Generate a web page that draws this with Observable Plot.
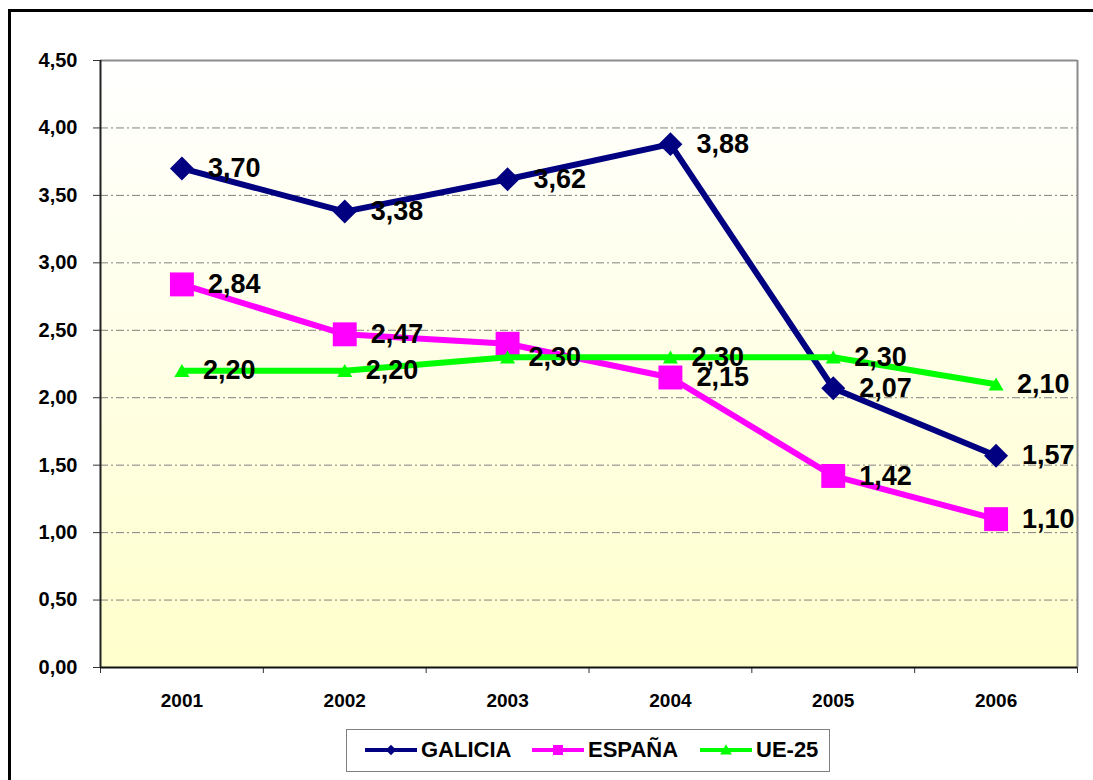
<!DOCTYPE html>
<html>
<head>
<meta charset="utf-8">
<script src="https://cdn.jsdelivr.net/npm/d3@7"></script>
<script src="https://cdn.jsdelivr.net/npm/@observablehq/plot@0.6"></script>
<style>
  body { margin: 0; background: #fff; font-family: "Liberation Sans", Arial, sans-serif; }
  #wrap { position: relative; width: 1093px; height: 780px; overflow: hidden; }
  #chart { position: absolute; left: 0; top: 0; }
  #border { position: absolute; left: 8px; top: 9px; width: 1200px; height: 900px; border: 3px solid #000; box-sizing: border-box; pointer-events: none; }
  #legend { position: absolute; left: 346px; top: 729px; width: 484px; height: 43px; border: 1.5px solid #808080; box-sizing: border-box; background: #fff; }
  .item { position: absolute; top: 0; height: 40px; display: flex; align-items: center; }
  .item svg { display: block; }
  .item span { font-size: 22px; font-weight: bold; color: #000; margin-left: 4px; }
</style>
</head>
<body>
<div id="wrap">
  <div id="chart"></div>
  <div id="legend"></div>
  <div id="border"></div>
</div>
<script>
// ---- data ----
const years = [2001, 2002, 2003, 2004, 2005, 2006];
const seriesNames = ["GALICIA", "ESPAÑA", "UE-25"];
const galicia = [3.70, 3.38, 3.62, 3.88, 2.07, 1.57];
const espana  = [2.84, 2.47, 2.40, 2.15, 1.42, 1.10];
const ue25    = [2.20, 2.20, 2.30, 2.30, 2.30, 2.10];
const unlabeled = [["ESPAÑA", 2003]];
const yTicks = [0, 0.5, 1, 1.5, 2, 2.5, 3, 3.5, 4, 4.5];
const yearEdges = [2000.5, 2001.5, 2002.5, 2003.5, 2004.5, 2005.5, 2006.5];
const colors = ["#000080", "#FF00FF", "#00FF00"];
const symbols = ["diamond2", "square", "triangle"];

const seriesValues = [galicia, espana, ue25];
const data = seriesNames.flatMap((s, i) => years.map((yr, j) => ({series: s, year: yr, value: seriesValues[i][j]})));
const fmt = d => d.toFixed(2).replace(".", ",");
const isLabeled = d => !unlabeled.some(([s, y]) => s === d.series && y === d.year);

const markStyle = {
  "GALICIA": {r: 10.8, dy: 0, dx: 26},
  "ESPAÑA": {r: 13.5, dy: 0, dx: 26},
  "UE-25": {r: 5.6, dy: 2, dx: 21}
};

const seriesMarks = seriesNames.flatMap((s, i) => {
  const sd = data.filter(d => d.series === s);
  return [
    Plot.line(sd, {x: "year", y: "value", stroke: colors[i], strokeWidth: 6, strokeLinejoin: "miter"}),
    Plot.dot(sd, {x: "year", y: "value", symbol: () => symbols[i], r: markStyle[s].r, fill: colors[i], stroke: "none", dy: markStyle[s].dy})
  ];
});
const labelMarks = seriesNames.map((s) =>
  Plot.text(data.filter(d => d.series === s && isLabeled(d)), {
    x: "year", y: "value", text: d => fmt(d.value), dx: markStyle[s].dx,
    textAnchor: "start", fontSize: 27, fontWeight: "bold", fill: "#000"
  })
);

const chart = Plot.plot({
  width: 1093, height: 780,
  marginLeft: 100, marginRight: 16, marginTop: 60, marginBottom: 113,
  x: {domain: [2000.5, 2006.5], axis: null},
  y: {domain: [0, 4.5], axis: null},
  symbol: {type: "identity"},
  style: {fontFamily: '"Liberation Sans", Arial, sans-serif', background: "transparent", overflow: "visible"},
  marks: [
    Plot.frame({fill: "url(#plotBg)", stroke: "none"}),
    Plot.ruleY(yTicks.filter(d => d > 0 && d < 4.5), {stroke: "#808080", strokeWidth: 1, strokeDasharray: "8,3,2,3"}),
    Plot.ruleY([4.5], {stroke: "#8c8c8c", strokeWidth: 2}),
    Plot.ruleX([2006.5], {stroke: "#8c8c8c", strokeWidth: 2}),
    Plot.axisY({ticks: yTicks, tickFormat: fmt, tickSize: 7, tickPadding: 16, fontSize: 20, fontWeight: "bold", fill: "#000", stroke: "#333", label: null}),
    Plot.axisX({ticks: years, tickFormat: d => String(d), tickSize: 0, tickPadding: 26, fontSize: 19, fontWeight: "bold", fill: "#000", label: null}),
    Plot.axisX({ticks: yearEdges, tickFormat: () => "", tickSize: 6, stroke: "#333", label: null}),
    Plot.ruleX([2000.5], {stroke: "#222", strokeWidth: 2}),
    Plot.ruleY([0], {stroke: "#111", strokeWidth: 2}),
    ...seriesMarks,
    ...labelMarks
  ]
});

const ns = "http://www.w3.org/2000/svg";
const defs = document.createElementNS(ns, "defs");
defs.innerHTML = '<linearGradient id="plotBg" x1="0" y1="0" x2="0" y2="1"><stop offset="0" stop-color="#ffffff"/><stop offset="1" stop-color="#ffffcc"/></linearGradient>';
chart.insertBefore(defs, chart.firstChild);
document.getElementById("chart").appendChild(chart);

// ---- legend ----
const legend = document.getElementById("legend");
const swatchLeft = [18, 185, 353];
seriesNames.forEach((s, i) => {
  const item = document.createElement("div");
  item.className = "item";
  item.style.left = swatchLeft[i] + "px";
  const sw = d3.create("svg").attr("width", 52).attr("height", 20);
  sw.append("line").attr("x1", 0).attr("x2", 52).attr("y1", 10).attr("y2", 10)
    .attr("stroke", colors[i]).attr("stroke-width", 4);
  const symSize = [70, 100, 60][i];
  const sym = [d3.symbolDiamond2, d3.symbolSquare, d3.symbolTriangle][i];
  sw.append("path").attr("d", d3.symbol(sym, symSize)()).attr("transform", `translate(26,${i === 2 ? 11 : 10})`).attr("fill", colors[i]);
  item.appendChild(sw.node());
  const t = document.createElement("span");
  t.textContent = s;
  item.appendChild(t);
  legend.appendChild(item);
});
</script>
</body>
</html>
